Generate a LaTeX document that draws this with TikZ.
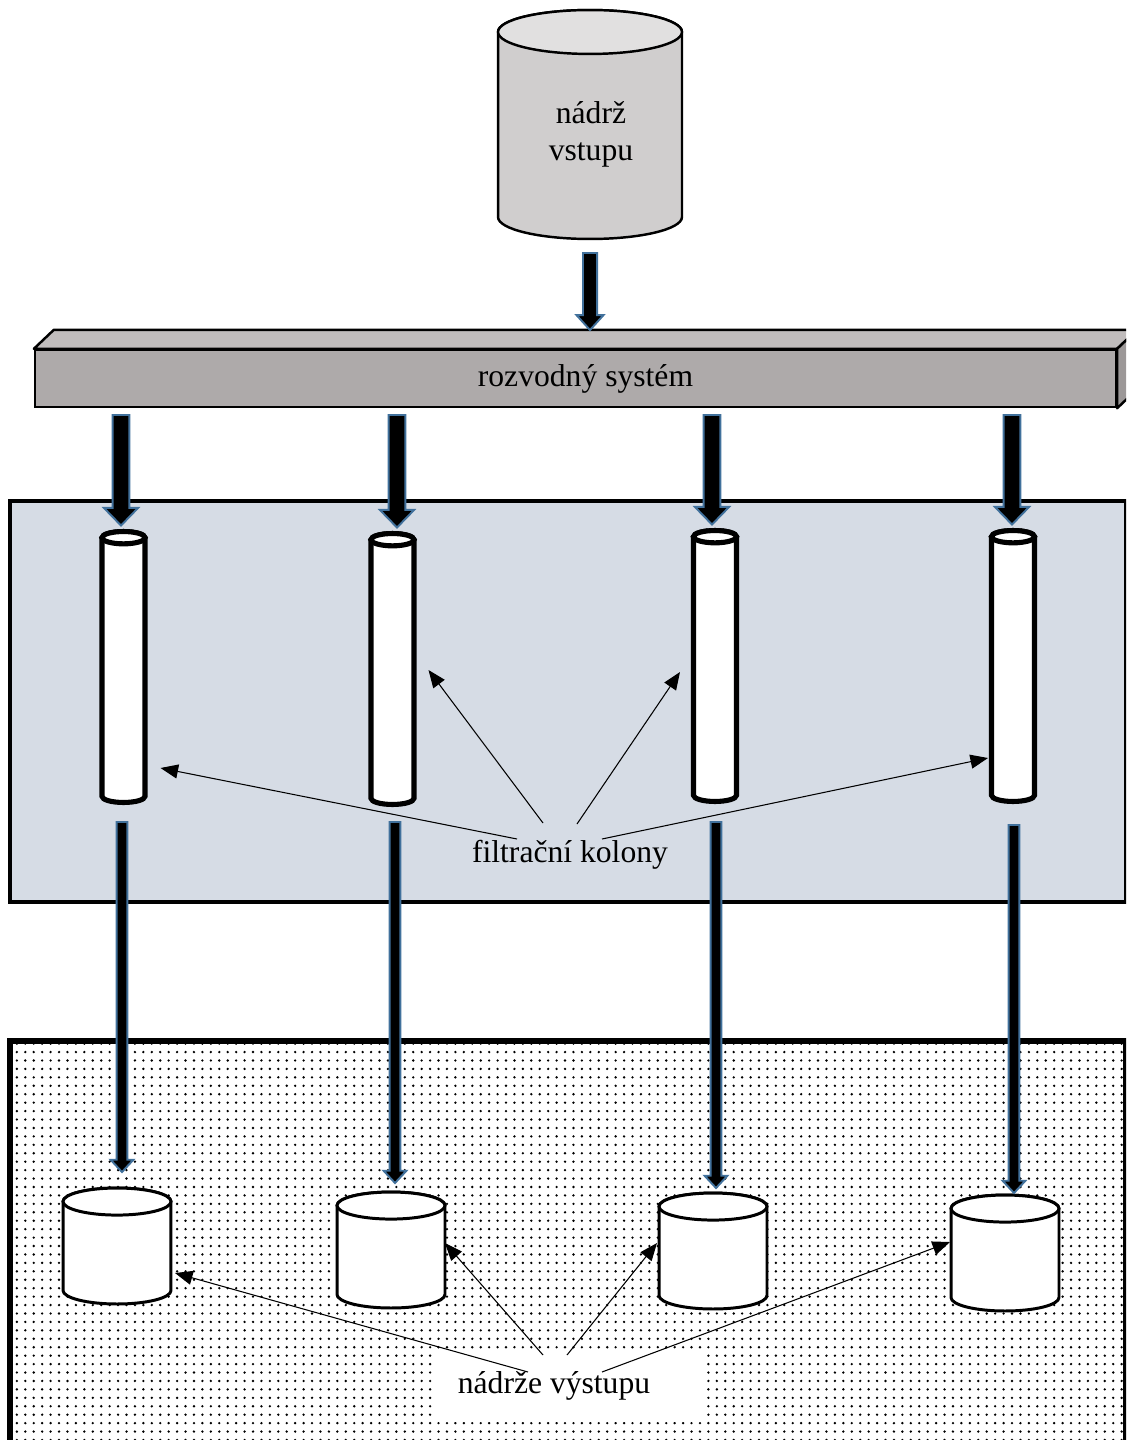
\documentclass[tikz,border=0pt]{standalone}
\usepackage{fontspec}
\setmainfont{Liberation Serif}
\usetikzlibrary{arrows.meta,positioning,calc,patterns.meta}
\definecolor{tankgray}{HTML}{D0CECE}
\definecolor{tanktop}{HTML}{E1E0E0}
\definecolor{barfront}{HTML}{AEAAAA}
\definecolor{bartop}{HTML}{C0BCBC}
\definecolor{barside}{HTML}{9C9898}
\definecolor{panelblue}{HTML}{D6DCE5}
\definecolor{pipeblue}{HTML}{41719C}
\tikzset{
  tankbox/.style={rectangle, inner sep=0pt, outer sep=0pt},
  lbl/.style={font=\fontsize{18}{21}\selectfont, align=center},
  pointer/.style={-{Triangle[length=10pt,width=8pt]}, line width=0.6pt},
  pipe/.style={fill=black, draw=pipeblue, line width=1.1pt, line join=miter}
}
% fat arrow: from, to, shaft half width, head half width, head length
\newcommand{\pipe}[5]{%
  \filldraw[pipe] let \p1=(#1), \p2=(#2) in
    (\x1-#3,\y1) -- (\x1+#3,\y1) -- (\x1+#3,\y2+#5) -- (\x1+#4,\y2+#5) -- (\x1,\y2)
    -- (\x1-#4,\y2+#5) -- (\x1-#3,\y2+#5) -- cycle;
}
% cylinder round a node: node, end radius, line width, body fill, end fill
\newcommand{\cyl}[5]{%
  \filldraw[fill=#4, line width=#3] let \p1=(#1.north west), \p2=(#1.south east), \n1={(\x2-\x1)/2} in
    (\x1,\y1-#2) -- (\x1,\y2+#2) arc[start angle=180, end angle=360, x radius=\n1, y radius=#2]
    -- (\x2,\y1-#2) arc[start angle=0, end angle=180, x radius=\n1, y radius=#2] -- cycle;
  \filldraw[fill=#5, line width=#3] let \p1=(#1.north west), \p2=(#1.south east), \n1={(\x2-\x1)/2} in
    (\x1+\n1,\y1-#2) ellipse[x radius=\n1, y radius=#2];
}

\begin{document}
\begin{tikzpicture}[x=0.02cm, y=-0.02cm]
\useasboundingbox (0,0) rectangle (1126,1440);
\clip (0,0) rectangle (1126,1440);

% panels
\draw[fill=panelblue, line width=2.3pt] (10,501) rectangle (1126,902);
\draw[pattern={Dots[distance=4.8pt, radius=0.75pt]}, line width=2.9pt] (10,1041) rectangle (1126,1450);

% input tank
\node[tankbox, minimum width=3.68cm, minimum height=4.58cm] (intank) at (590,124.5) {};
\cyl{intank}{12.5pt}{1.4pt}{tankgray}{tanktop}
\node[lbl] (intxt) at (591,134) {nádrž\\vstupu};

% distribution bar
\node[draw, fill=barfront, line width=1.4pt, minimum width=21.62cm, minimum height=1.14cm, inner sep=0pt, lbl] (rozvod) at (575.5,378.5) {\hspace{0.4cm}rozvodný systém};
\draw[fill=bartop, line width=1.4pt, line join=round] (rozvod.north west) -- ++(20,-19) -- ($(rozvod.north east)+(20,-19)$) -- (rozvod.north east) -- cycle;
\draw[fill=barside, line width=1.4pt, line join=round] (rozvod.north east) -- ++(20,-19) -- ($(rozvod.south east)+(20,-19)$) -- (rozvod.south east) -- cycle;

% filter columns
\node[tankbox, minimum width=0.86cm, minimum height=5.42cm] (k1) at (123.5,667) {};
\node[tankbox, minimum width=0.86cm, minimum height=5.42cm] (k2) at (392.5,669) {};
\node[tankbox, minimum width=0.86cm, minimum height=5.42cm] (k3) at (715,666) {};
\node[tankbox, minimum width=0.86cm, minimum height=5.42cm] (k4) at (1013,666) {};
\foreach \c in {k1,k2,k3,k4} {\cyl{\c}{3.5pt}{2.9pt}{white}{white}}

% output tanks
\node[tankbox, minimum width=2.16cm, minimum height=2.32cm] (n1) at (117,1246) {};
\node[tankbox, minimum width=2.16cm, minimum height=2.32cm] (n2) at (391,1250) {};
\node[tankbox, minimum width=2.16cm, minimum height=2.32cm] (n3) at (713,1251) {};
\node[tankbox, minimum width=2.16cm, minimum height=2.32cm] (n4) at (1005,1253) {};
\foreach \c in {n1,n2,n3,n4} {\cyl{\c}{7.7pt}{1.7pt}{white}{white}}

% pipes
\coordinate (p0) at (590,253);
\coordinate (t0) at (590,330);
\pipe{p0}{t0}{4pt}{7.7pt}{8.5pt}
\coordinate (r1) at (121,415);  \coordinate (r2) at (397,415);
\coordinate (r3) at (712,415);  \coordinate (r4) at (1012,415);
\pipe{r1}{$(r1|-k1.north)+(0,-6)$}{4.8pt}{9.7pt}{10pt}
\pipe{r2}{$(r2|-k2.north)+(0,-6)$}{4.8pt}{9.7pt}{10pt}
\pipe{r3}{$(r3|-k3.north)+(0,-6)$}{4.8pt}{9.7pt}{10pt}
\pipe{r4}{$(r4|-k4.north)+(0,-6)$}{4.8pt}{9.7pt}{10pt}
\coordinate (o1) at (122,822);  \coordinate (o2) at (395,822);
\coordinate (o3) at (716,822);  \coordinate (o4) at (1014,825);
\pipe{o1}{$(o1|-n1.north)+(0,-16)$}{3.1pt}{6.5pt}{7pt}
\pipe{o2}{$(o2|-n2.north)+(0,-9)$}{3.1pt}{6.5pt}{7pt}
\pipe{o3}{$(o3|-n3.north)+(0,-5)$}{3.1pt}{6.5pt}{7pt}
\pipe{o4}{$(o4|-n4.north)+(0,-2)$}{3.1pt}{6.5pt}{7pt}

% labels and pointers
\node[lbl] (fk) at (570,855) {filtrační kolony};
\coordinate (f1) at (517,839);  \coordinate (f2) at (543,823);
\coordinate (f3) at (577,824);  \coordinate (f4) at (602,839);
\draw[pointer] (f1) -- ($(k1.center)+(37,101)$);
\draw[pointer] (f2) -- ($(k2.center)+(36,1)$);
\draw[pointer] (f3) -- ($(k3.center)+(-35,6)$);
\draw[pointer] (f4) -- ($(k4.center)+(-25,92)$);

\fill[white] (437,1353) rectangle (702,1422);
\node[lbl] (nv) at (554,1386) {nádrže výstupu};
\coordinate (v1) at (528,1372);  \coordinate (v2) at (543,1355);
\coordinate (v3) at (567,1355);  \coordinate (v4) at (602,1372);
\draw[pointer] (v1) -- ($(n1.center)+(58,27)$);
\draw[pointer] (v2) -- ($(n2.center)+(54,-7)$);
\draw[pointer] (v3) -- ($(n3.center)+(-56,-8)$);
\draw[pointer] (v4) -- ($(n4.center)+(-55,-11)$);
\end{tikzpicture}
\end{document}
